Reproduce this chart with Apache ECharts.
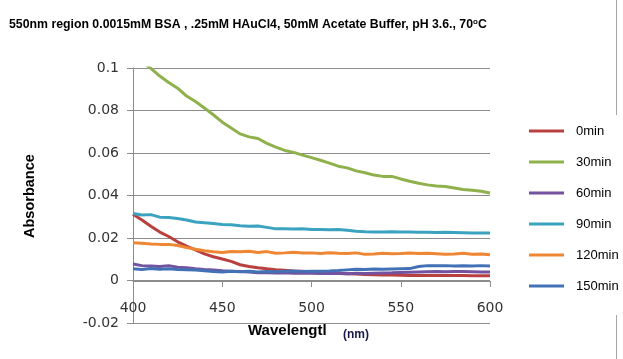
<!DOCTYPE html>
<html>
<head>
<meta charset="utf-8">
<script src="https://cdn.jsdelivr.net/npm/echarts@6/dist/echarts.min.js"></script>
<style>
html,body{margin:0;padding:0;background:#fff;}
#chart{width:623px;height:359px;}
</style>
</head>
<body>
<div id="chart"></div>
<script>
var wavelengths = [400,405,410,415,420,425,430,435,440,445,450,455,460,465,470,475,480,485,490,495,500,505,510,515,520,525,530,535,540,545,550,555,560,565,570,575,580,585,590,595,600];
var seriesNames = ['0min','30min','60min','90min','120min','150min'];
var yTicks = [-0.02, 0, 0.02, 0.04, 0.06, 0.08, 0.1];
var xTicks = [400, 450, 500, 550, 600];

var s0min = [0.0312,0.0285,0.0255,0.0228,0.0207,0.0182,0.0162,0.0144,0.0125,0.0112,0.0101,0.0090,0.0074,0.0066,0.0060,0.0055,0.0051,0.0048,0.0045,0.0043,0.0040,0.0038,0.0036,0.0034,0.0032,0.0030,0.0028,0.0027,0.0026,0.0026,0.0025,0.0024,0.0024,0.0024,0.0023,0.0024,0.0023,0.0023,0.0022,0.0022,0.0022];
var s30min = [0.1062,0.1030,0.0998,0.0962,0.0932,0.0905,0.0868,0.0842,0.0812,0.0780,0.0745,0.0718,0.0690,0.0676,0.0668,0.0645,0.0628,0.0612,0.0603,0.0590,0.0578,0.0566,0.0552,0.0538,0.0530,0.0516,0.0507,0.0496,0.0490,0.0490,0.0478,0.0467,0.0458,0.0450,0.0445,0.0442,0.0435,0.0428,0.0425,0.0420,0.0412];
var s60min = [0.0078,0.0070,0.0068,0.0066,0.0070,0.0062,0.0060,0.0055,0.0052,0.0050,0.0046,0.0044,0.0042,0.0040,0.0036,0.0037,0.0035,0.0036,0.0034,0.0035,0.0034,0.0033,0.0034,0.0033,0.0032,0.0034,0.0033,0.0034,0.0035,0.0036,0.0038,0.0039,0.0040,0.0041,0.0042,0.0041,0.0042,0.0042,0.0041,0.0040,0.0040];
var s90min = [0.0315,0.0308,0.0310,0.0298,0.0296,0.0292,0.0285,0.0275,0.0272,0.0268,0.0263,0.0262,0.0258,0.0255,0.0256,0.0250,0.0243,0.0244,0.0242,0.0243,0.0240,0.0240,0.0239,0.0240,0.0236,0.0232,0.0229,0.0228,0.0228,0.0229,0.0228,0.0228,0.0227,0.0227,0.0226,0.0227,0.0226,0.0225,0.0224,0.0224,0.0223];
var s120min = [0.0178,0.0175,0.0172,0.0170,0.0170,0.0165,0.0155,0.0147,0.0140,0.0135,0.0132,0.0136,0.0135,0.0138,0.0132,0.0136,0.0128,0.0130,0.0133,0.0129,0.0130,0.0127,0.0131,0.0128,0.0127,0.0130,0.0123,0.0125,0.0128,0.0126,0.0127,0.0129,0.0127,0.0128,0.0126,0.0124,0.0125,0.0128,0.0124,0.0125,0.0121];
var s150min = [0.0055,0.0052,0.0056,0.0053,0.0055,0.0052,0.0050,0.0049,0.0046,0.0042,0.0040,0.0043,0.0041,0.0044,0.0040,0.0042,0.0041,0.0043,0.0045,0.0042,0.0043,0.0044,0.0045,0.0047,0.0050,0.0053,0.0052,0.0054,0.0053,0.0054,0.0055,0.0056,0.0066,0.0070,0.0069,0.0070,0.0068,0.0069,0.0068,0.0070,0.0068];

var seriesValues = [s0min, s30min, s60min, s90min, s120min, s150min];
var colors = ['#B8403E', '#8FB14C', '#7352A0', '#3BA3BF', '#EF8633', '#4272B5'];

function pairs(vals) {
  return wavelengths.map(function (w, i) { return [w, vals[i]]; });
}

var chart = echarts.init(document.getElementById('chart'), null, {renderer: 'canvas'});
var option = {
  animation: false,
  backgroundColor: '#ffffff',
  color: colors,
  title: {
    text: '550nm region 0.0015mM BSA , .25mM HAuCl4, 50mM Acetate Buffer, pH 3.6., 70{sup|o}C',
    left: 4,
    top: 13,
    textStyle: {
      fontFamily: 'Liberation Sans',
      fontSize: 12.3,
      fontWeight: 'bold',
      color: '#000',
      rich: {
        sup: {fontFamily: 'Liberation Sans', fontSize: 8, fontWeight: 'bold', color: '#000', padding: [0, 0, 6, 0]}
      }
    }
  },
  legend: {
    orient: 'vertical',
    left: 529,
    top: 124,
    padding: 0,
    icon: 'rect',
    itemWidth: 35,
    itemHeight: 3,
    itemGap: 17,
    data: seriesNames,
    textStyle: {
      fontFamily: 'Liberation Sans',
      fontSize: 13,
      lineHeight: 14,
      color: '#000',
      padding: [0, 0, 0, 7]
    }
  },
  grid: {left: 133, right: 133, top: 68, bottom: 36, containLabel: false},
  xAxis: {
    type: 'value',
    min: xTicks[0],
    max: xTicks[xTicks.length - 1],
    interval: 50,
    offset: -42,
    axisLine: {show: true, onZero: false, lineStyle: {color: '#8C8C8C', width: 1}},
    axisTick: {show: true, length: 6, lineStyle: {color: '#8C8C8C'}},
    splitLine: {show: false},
    axisLabel: {
      margin: 20,
      fontFamily: 'DejaVu Sans',
      fontSize: 14,
      color: '#333'
    }
  },
  yAxis: {
    type: 'value',
    min: yTicks[0],
    max: yTicks[yTicks.length - 1],
    interval: 0.02,
    axisLine: {show: true, onZero: false, lineStyle: {color: '#8C8C8C', width: 1}},
    axisTick: {show: true, length: 6, lineStyle: {color: '#8C8C8C'}},
    splitLine: {show: true, lineStyle: {color: '#8C8C8C', width: 1}},
    axisLabel: {
      margin: 14,
      fontFamily: 'DejaVu Sans',
      fontSize: 14,
      color: '#333',
      formatter: function (v) { return String(+v.toFixed(2)); }
    }
  },
  series: seriesNames.map(function (name, i) {
    return {
      name: name,
      type: 'line',
      data: pairs(seriesValues[i]),
      symbol: 'none',
      clip: true,
      lineStyle: {width: 3, color: colors[i]},
      itemStyle: {color: colors[i]}
    };
  }),
  graphic: [
    {type: 'text', rotation: Math.PI / 2, x: 22, y: 238, style: {text: 'Absorbance', font: 'bold 14.5px "Liberation Sans"', fill: '#000'}},
    {type: 'text', x: 248, y: 331, style: {text: 'Wavelengtl', font: 'bold 15px "Liberation Sans"', fill: '#000', textVerticalAlign: 'middle', verticalAlign: 'middle'}},
    {type: 'text', x: 343, y: 335, style: {text: '(nm)', font: 'bold 12px "Liberation Sans"', fill: '#1a1a4a', textVerticalAlign: 'middle', verticalAlign: 'middle'}},
    {type: 'line', shape: {x1: 616.5, y1: 0, x2: 616.5, y2: 115}, style: {stroke: '#A6A6A6', lineWidth: 1}},
    {type: 'line', shape: {x1: 616.5, y1: 315, x2: 616.5, y2: 359}, style: {stroke: '#A6A6A6', lineWidth: 1}}
  ]
};
chart.setOption(option);
</script>
</body>
</html>
